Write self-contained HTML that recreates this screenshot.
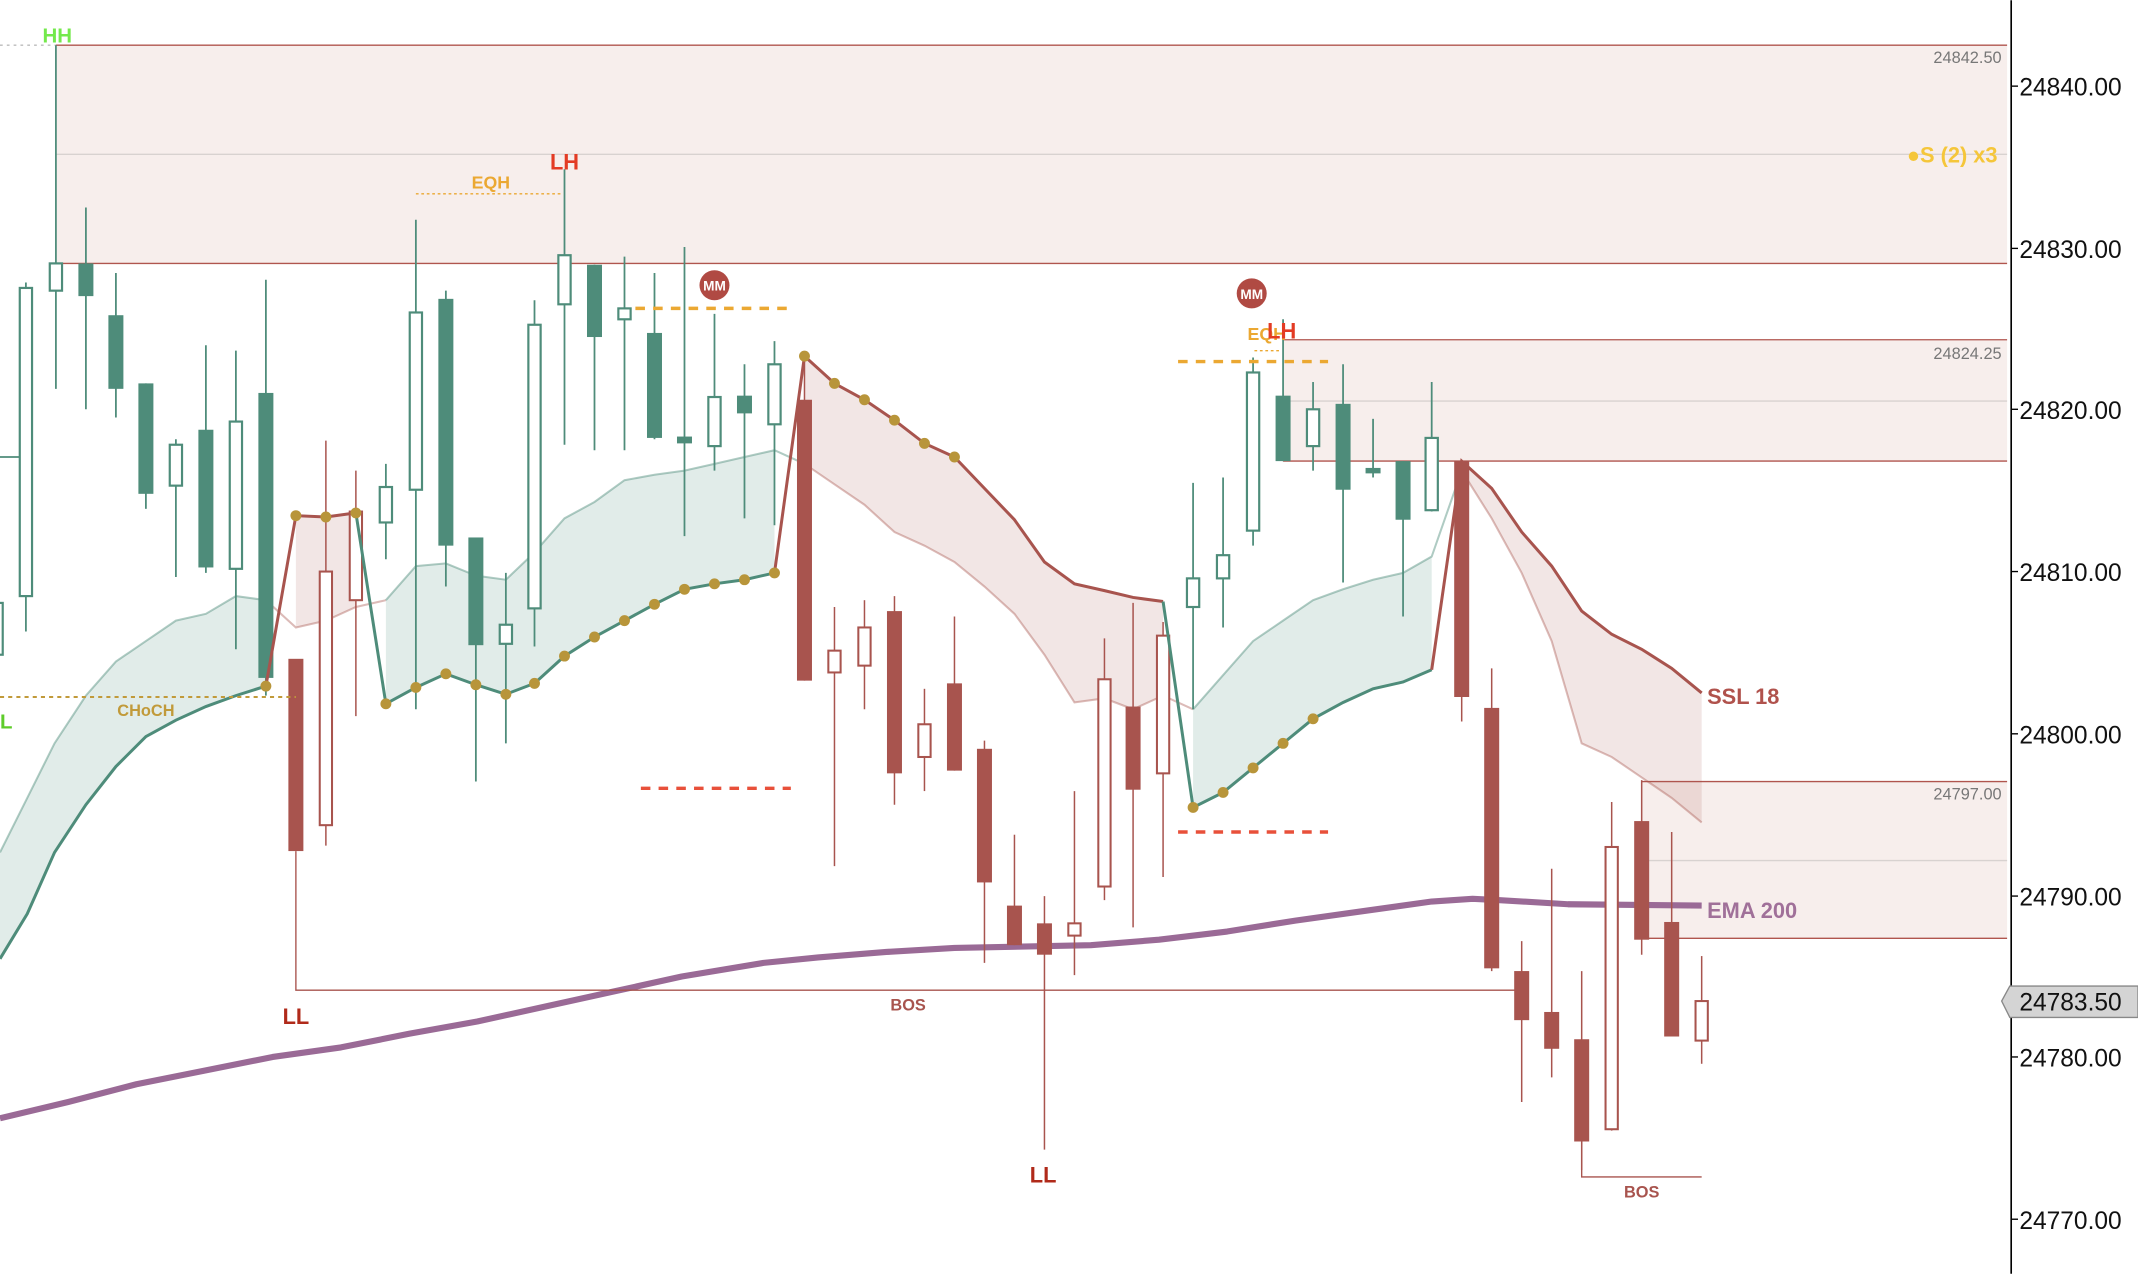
<!DOCTYPE html>
<html><head><meta charset="utf-8"><style>
html,body{margin:0;padding:0;background:#fff;}
svg{display:block;}
text{font-family:"Liberation Sans",sans-serif;}
</style></head><body>
<svg width="2138" height="1274" viewBox="0 0 1568 934" xmlns="http://www.w3.org/2000/svg">
<rect width="1568" height="934" fill="#fff"/>
<!-- zones -->
<rect x="41" y="33" width="1431" height="160" fill="#f7eeec"/>
<line x1="41" y1="33" x2="1472" y2="33" stroke="#b0554e" stroke-width="1"/>
<line x1="41" y1="193" x2="1472" y2="193" stroke="#b0554e" stroke-width="1"/>
<line x1="41" y1="113" x2="1472" y2="113" stroke="#d8d2d0" stroke-width="1"/>
<line x1="0" y1="33" x2="41" y2="33" stroke="#bbb" stroke-width="1" stroke-dasharray="2,3"/>
<rect x="941" y="249" width="531" height="89" fill="#f7eeec"/>
<line x1="941" y1="249" x2="1472" y2="249" stroke="#b0554e"/>
<line x1="941" y1="338" x2="1472" y2="338" stroke="#b0554e"/>
<line x1="941" y1="294" x2="1472" y2="294" stroke="#d8d2d0"/>
<rect x="1204" y="573" width="268" height="115" fill="#f7eeec"/>
<line x1="1204" y1="573" x2="1472" y2="573" stroke="#b0554e"/>
<line x1="1204" y1="688" x2="1472" y2="688" stroke="#b0554e"/>
<line x1="1204" y1="631" x2="1472" y2="631" stroke="#d8d2d0"/>
<text x="1468" y="46" font-size="12" fill="#777" text-anchor="end">24842.50</text>
<text x="1468" y="263" font-size="12" fill="#777" text-anchor="end">24824.25</text>
<text x="1468" y="586" font-size="12" fill="#777" text-anchor="end">24797.00</text>
<text x="1465" y="119" font-size="16" font-weight="bold" fill="#f5c63a" text-anchor="end">●S (2) x3</text>

<!-- SSL fills -->
<polygon fill="#4e8c7a" fill-opacity="0.17" points="0,703 20,670 40,625 63,590 85,562 107,540 129,528 151,518 173,510 195,503 195,440 173,437 151,450 129,455 107,470 85,485 63,510 40,545 20,585 0,625"/>
<polyline fill="none" stroke="#4e8c7a" stroke-opacity="0.45" stroke-width="1.5" points="0,625 20,585 40,545 63,510 85,485 107,470 129,455 151,450 173,437 195,440"/>
<polygon fill="#a8544e" fill-opacity="0.15" points="217,378 239,379 261,376 261,445 239,455 217,460"/>
<polyline fill="none" stroke="#a8544e" stroke-opacity="0.4" stroke-width="1.5" points="195,440 217,460 239,455 261,445 283,440"/>
<polygon fill="#4e8c7a" fill-opacity="0.17" points="283,516 305,504 327,494 349,502 371,509 392,501 414,481 436,467 458,455 480,443 502,432 524,428 546,425 568,420 568,330 546,335 524,340 502,345 480,348 458,352 436,368 414,380 392,405 371,425 349,422 327,413 305,415 283,440"/>
<polyline fill="none" stroke="#4e8c7a" stroke-opacity="0.45" stroke-width="1.5" points="283,440 305,415 327,413 349,422 371,425 392,405 414,380 436,368 458,352 480,348 502,345 524,340 546,335 568,330 590,340"/>
<polygon fill="#a8544e" fill-opacity="0.15" points="590,261 612,281 634,293 656,308 678,325 700,335 722,358 744,381 766,412 788,428 810,433 831,438 853,441 853,510 831,520 810,512 788,515 766,480 744,450 722,430 700,412 678,400 656,390 634,370 612,355 590,340"/>
<polyline fill="none" stroke="#a8544e" stroke-opacity="0.4" stroke-width="1.5" points="590,340 612,355 634,370 656,390 678,400 700,412 722,430 744,450 766,480 788,515 810,512 831,520 853,510 875,520"/>
<polygon fill="#4e8c7a" fill-opacity="0.17" points="875,592 897,581 919,563 941,545 963,527 985,515 1007,505 1029,500 1050,491 1050,408 1029,420 1007,425 985,432 963,440 941,455 919,470 897,495 875,520"/>
<polyline fill="none" stroke="#4e8c7a" stroke-opacity="0.45" stroke-width="1.5" points="875,520 897,495 919,470 941,455 963,440 985,432 1007,425 1029,420 1050,408 1072,345"/>
<polygon fill="#a8544e" fill-opacity="0.15" points="1072,338 1094,358 1116,390 1138,415 1160,448 1182,465 1204,476 1226,490 1248,508 1248,603 1226,585 1204,570 1182,555 1160,545 1138,470 1116,420 1094,380 1072,345"/>
<polyline fill="none" stroke="#a8544e" stroke-opacity="0.4" stroke-width="1.5" points="1072,345 1094,380 1116,420 1138,470 1160,545 1182,555 1204,570 1226,585 1248,603"/>

<!-- EMA -->
<polyline fill="none" stroke="#9a6a96" stroke-width="4.5" stroke-linejoin="round" points="0,820 50,808 100,795 150,785 200,775 250,768 300,758 350,749 400,738 450,727 500,716 560,706 600,702 650,698 700,695 750,694 800,693 850,689 900,683 950,675 1000,668 1050,661 1080,659 1100,660 1150,663 1248,664"/>

<!-- candles teal -->
<g stroke="#4e8c7a" stroke-width="1.3" fill="none">
<line x1="19" y1="207" x2="19" y2="463"/><line x1="41" y1="33" x2="41" y2="285"/><line x1="63" y1="152" x2="63" y2="300"/><line x1="85" y1="200" x2="85" y2="306"/><line x1="107" y1="281" x2="107" y2="373"/><line x1="129" y1="322" x2="129" y2="423"/><line x1="151" y1="253" x2="151" y2="420"/><line x1="173" y1="257" x2="173" y2="476"/><line x1="195" y1="205" x2="195" y2="510"/>
<line x1="283" y1="340" x2="283" y2="410"/><line x1="305" y1="161" x2="305" y2="520"/><line x1="327" y1="213" x2="327" y2="430"/><line x1="349" y1="394" x2="349" y2="573"/><line x1="371" y1="420" x2="371" y2="545"/><line x1="392" y1="220" x2="392" y2="474"/><line x1="414" y1="124" x2="414" y2="326"/><line x1="436" y1="194" x2="436" y2="330"/><line x1="458" y1="188" x2="458" y2="330"/><line x1="480" y1="200" x2="480" y2="322"/><line x1="502" y1="181" x2="502" y2="393"/><line x1="524" y1="230" x2="524" y2="345"/><line x1="546" y1="267" x2="546" y2="380"/><line x1="568" y1="250" x2="568" y2="385"/>
<line x1="875" y1="354" x2="875" y2="520"/><line x1="897" y1="350" x2="897" y2="460"/><line x1="919" y1="262" x2="919" y2="400"/><line x1="941" y1="234" x2="941" y2="338"/><line x1="963" y1="280" x2="963" y2="345"/><line x1="985" y1="267" x2="985" y2="427"/><line x1="1007" y1="307" x2="1007" y2="350"/><line x1="1029" y1="338" x2="1029" y2="452"/><line x1="1050" y1="280" x2="1050" y2="375"/>
<line x1="0" y1="335" x2="18" y2="335"/>
</g>
<g fill="#4e8c7a">
<rect x="57.5" y="193" width="11" height="24"/><rect x="79.5" y="231" width="11" height="54"/><rect x="101.5" y="281" width="11" height="81"/><rect x="145.5" y="315" width="11" height="101"/><rect x="189.5" y="288" width="11" height="209"/><rect x="321.5" y="219" width="11" height="181"/><rect x="343.5" y="394" width="11" height="79"/><rect x="430.5" y="194" width="11" height="53"/><rect x="474.5" y="244" width="11" height="77"/><rect x="496.5" y="320" width="11" height="5"/><rect x="540.5" y="290" width="11" height="13"/><rect x="935.5" y="290" width="11" height="48"/><rect x="979.5" y="296" width="11" height="63"/><rect x="1001.5" y="343" width="11" height="4"/><rect x="1023.5" y="338" width="11" height="43"/>
</g>
<g fill="#fff" stroke="#4e8c7a" stroke-width="1.6">
<rect x="-4" y="442" width="6" height="38"/><rect x="14.5" y="211" width="9" height="226"/><rect x="36.5" y="193" width="9" height="20"/><rect x="124.5" y="326" width="9" height="30"/><rect x="168.5" y="309" width="9" height="108"/><rect x="278.5" y="357" width="9" height="26"/><rect x="300.5" y="229" width="9" height="130"/><rect x="366.5" y="458" width="9" height="14"/><rect x="387.5" y="238" width="9" height="208"/><rect x="409.5" y="187" width="9" height="36"/><rect x="453.5" y="226" width="9" height="8"/><rect x="519.5" y="291" width="9" height="36"/><rect x="563.5" y="267" width="9" height="44"/><rect x="870.5" y="424" width="9" height="21"/><rect x="892.5" y="407" width="9" height="17"/><rect x="914.5" y="273" width="9" height="116"/><rect x="958.5" y="300" width="9" height="27"/><rect x="1045.5" y="321" width="9" height="53"/>
</g>
<!-- candles red -->
<g stroke="#a8544e" stroke-width="1.1" fill="none">
<line x1="239" y1="323" x2="239" y2="620"/><line x1="261" y1="345" x2="261" y2="525"/><line x1="590" y1="260" x2="590" y2="499"/><line x1="612" y1="445" x2="612" y2="635"/><line x1="634" y1="440" x2="634" y2="520"/><line x1="656" y1="437" x2="656" y2="590"/><line x1="678" y1="505" x2="678" y2="580"/><line x1="700" y1="452" x2="700" y2="565"/><line x1="722" y1="543" x2="722" y2="706"/><line x1="744" y1="612" x2="744" y2="693"/><line x1="766" y1="657" x2="766" y2="843"/><line x1="788" y1="580" x2="788" y2="715"/><line x1="810" y1="468" x2="810" y2="660"/><line x1="831" y1="442" x2="831" y2="680"/><line x1="853" y1="456" x2="853" y2="643"/><line x1="1072" y1="338" x2="1072" y2="529"/><line x1="1094" y1="490" x2="1094" y2="712"/><line x1="1116" y1="690" x2="1116" y2="808"/><line x1="1138" y1="637" x2="1138" y2="790"/><line x1="1160" y1="712" x2="1160" y2="858"/><line x1="1182" y1="588" x2="1182" y2="829"/><line x1="1204" y1="572" x2="1204" y2="700"/><line x1="1226" y1="610" x2="1226" y2="760"/><line x1="1248" y1="701" x2="1248" y2="780"/>
</g>
<g fill="#a8544e">
<rect x="211.5" y="483" width="11" height="141"/><rect x="584.5" y="293" width="11" height="206"/><rect x="650.5" y="448" width="11" height="119"/><rect x="694.5" y="501" width="11" height="64"/><rect x="716.5" y="549" width="11" height="98"/><rect x="738.5" y="664" width="11" height="29"/><rect x="760.5" y="677" width="11" height="23"/><rect x="825.5" y="518" width="11" height="61"/><rect x="1066.5" y="338" width="11" height="173"/><rect x="1088.5" y="519" width="11" height="191"/><rect x="1110.5" y="712" width="11" height="36"/><rect x="1132.5" y="742" width="11" height="27"/><rect x="1154.5" y="762" width="11" height="75"/><rect x="1198.5" y="602" width="11" height="87"/><rect x="1220.5" y="676" width="11" height="84"/>
</g>
<g fill="#fff" stroke="#a8544e" stroke-width="1.5">
<rect x="234.5" y="419" width="9" height="186"/><rect x="256.5" y="375" width="9" height="65"/><rect x="607.5" y="477" width="9" height="16"/><rect x="629.5" y="460" width="9" height="28"/><rect x="673.5" y="531" width="9" height="24"/><rect x="783.5" y="677" width="9" height="9"/><rect x="805.5" y="498" width="9" height="152"/><rect x="848.5" y="466" width="9" height="101"/><rect x="1177.5" y="621" width="9" height="207"/><rect x="1243.5" y="734" width="9" height="29"/>
</g>

<!-- SSL lines -->
<polyline fill="none" stroke="#4e8c7a" stroke-width="2.2" points="0,703 20,670 40,625 63,590 85,562 107,540 129,528 151,518 173,510 195,503"/>
<polyline fill="none" stroke="#a8544e" stroke-width="2.2" points="195,503 217,378 239,379 261,376"/>
<polyline fill="none" stroke="#4e8c7a" stroke-width="2.2" points="261,376 283,516 305,504 327,494 349,502 371,509 392,501 414,481 436,467 458,455 480,443 502,432 524,428 546,425 568,420"/>
<polyline fill="none" stroke="#a8544e" stroke-width="2.2" points="568,420 590,261 612,281 634,293 656,308 678,325 700,335 722,358 744,381 766,412 788,428 810,433 831,438 853,441"/>
<polyline fill="none" stroke="#4e8c7a" stroke-width="2.2" points="853,441 875,592 897,581 919,563 941,545 963,527 985,515 1007,505 1029,500 1050,491"/>
<polyline fill="none" stroke="#a8544e" stroke-width="2.2" points="1050,491 1072,338 1094,358 1116,390 1138,415 1160,448 1182,465 1204,476 1226,490 1248,508"/>
<g fill="#b8953a">
<circle cx="195" cy="503" r="4"/><circle cx="217" cy="378" r="4"/><circle cx="239" cy="379" r="4"/><circle cx="261" cy="376" r="4"/><circle cx="283" cy="516" r="4"/><circle cx="305" cy="504" r="4"/><circle cx="327" cy="494" r="4"/><circle cx="349" cy="502" r="4"/><circle cx="371" cy="509" r="4"/><circle cx="392" cy="501" r="4"/><circle cx="414" cy="481" r="4"/><circle cx="436" cy="467" r="4"/><circle cx="458" cy="455" r="4"/><circle cx="480" cy="443" r="4"/><circle cx="502" cy="432" r="4"/><circle cx="524" cy="428" r="4"/><circle cx="546" cy="425" r="4"/><circle cx="568" cy="420" r="4"/><circle cx="590" cy="261" r="4"/><circle cx="612" cy="281" r="4"/><circle cx="634" cy="293" r="4"/><circle cx="656" cy="308" r="4"/><circle cx="678" cy="325" r="4"/><circle cx="700" cy="335" r="4"/><circle cx="875" cy="592" r="4"/><circle cx="897" cy="581" r="4"/><circle cx="919" cy="563" r="4"/><circle cx="941" cy="545" r="4"/><circle cx="963" cy="527" r="4"/>
</g>

<!-- annotations -->
<text x="42" y="31" font-size="15" font-weight="bold" fill="#74e94c" text-anchor="middle">HH</text>
<line x1="305" y1="142" x2="413" y2="142" stroke="#eba832" stroke-width="1" stroke-dasharray="2,2"/>
<text x="360" y="138" font-size="13" font-weight="bold" fill="#eba832" text-anchor="middle">EQH</text>
<text x="414" y="124" font-size="16" font-weight="bold" fill="#e33b24" text-anchor="middle">LH</text>
<circle cx="524" cy="209" r="11" fill="#b04a43"/>
<text x="524" y="213" font-size="10" font-weight="bold" fill="#fff" text-anchor="middle">MM</text>
<circle cx="918" cy="215" r="11" fill="#b04a43"/>
<text x="918" y="219" font-size="10" font-weight="bold" fill="#fff" text-anchor="middle">MM</text>
<line x1="466" y1="226" x2="580" y2="226" stroke="#eba832" stroke-width="2.5" stroke-dasharray="7,6"/>
<line x1="470" y1="578" x2="580" y2="578" stroke="#e8503a" stroke-width="2.5" stroke-dasharray="7,6"/>
<line x1="864" y1="265" x2="974" y2="265" stroke="#eba832" stroke-width="2.5" stroke-dasharray="7,6"/>
<line x1="864" y1="610" x2="974" y2="610" stroke="#e8503a" stroke-width="2.5" stroke-dasharray="7,6"/>
<line x1="920" y1="257" x2="940" y2="257" stroke="#eba832" stroke-width="1" stroke-dasharray="2,2"/>
<text x="929" y="249" font-size="13" font-weight="bold" fill="#eba832" text-anchor="middle">EQH</text>
<text x="940" y="248" font-size="16" font-weight="bold" fill="#e33b24" text-anchor="middle">LH</text>
<line x1="0" y1="511" x2="217" y2="511" stroke="#c19a3a" stroke-width="1.5" stroke-dasharray="3,3"/>
<text x="107" y="525" font-size="12" font-weight="bold" fill="#c19a3a" text-anchor="middle">CHoCH</text>
<text x="0" y="534" font-size="15" font-weight="bold" fill="#5ecc2a">L</text>
<polyline fill="none" stroke="#a8544e" stroke-width="1" points="217,624 217,726 1116,726"/>
<text x="666" y="741" font-size="12" font-weight="bold" fill="#a8544e" text-anchor="middle">BOS</text>
<text x="217" y="751" font-size="16" font-weight="bold" fill="#b02a1a" text-anchor="middle">LL</text>
<text x="765" y="867" font-size="16" font-weight="bold" fill="#b02a1a" text-anchor="middle">LL</text>
<polyline fill="none" stroke="#a8544e" stroke-width="1" points="1160,837 1160,863 1248,863"/>
<text x="1204" y="878" font-size="12" font-weight="bold" fill="#a8544e" text-anchor="middle">BOS</text>
<text x="1252" y="516" font-size="16" font-weight="bold" fill="#b0524c">SSL 18</text>
<text x="1252" y="673" font-size="16" font-weight="bold" fill="#a07099">EMA 200</text>

<!-- axis -->
<line x1="1475" y1="0" x2="1475" y2="934" stroke="#000" stroke-width="1.2"/>
<g stroke="#000" stroke-width="1">
<line x1="1475" y1="63" x2="1480" y2="63"/><line x1="1475" y1="182" x2="1480" y2="182"/><line x1="1475" y1="300" x2="1480" y2="300"/><line x1="1475" y1="419" x2="1480" y2="419"/><line x1="1475" y1="538" x2="1480" y2="538"/><line x1="1475" y1="657" x2="1480" y2="657"/><line x1="1475" y1="775" x2="1480" y2="775"/><line x1="1475" y1="894" x2="1480" y2="894"/>
</g>
<g font-size="18" fill="#111">
<text x="1481" y="70">24840.00</text><text x="1481" y="189">24830.00</text><text x="1481" y="307">24820.00</text><text x="1481" y="426">24810.00</text><text x="1481" y="545">24800.00</text><text x="1481" y="664">24790.00</text><text x="1481" y="782">24780.00</text><text x="1481" y="901">24770.00</text>
</g>
<polygon points="1468,734 1474,723 1568,723 1568,746 1474,746" fill="#d4d4d4" stroke="#888" stroke-width="1"/>
<text x="1481" y="741" font-size="18" fill="#111">24783.50</text>
</svg>
</body></html>
